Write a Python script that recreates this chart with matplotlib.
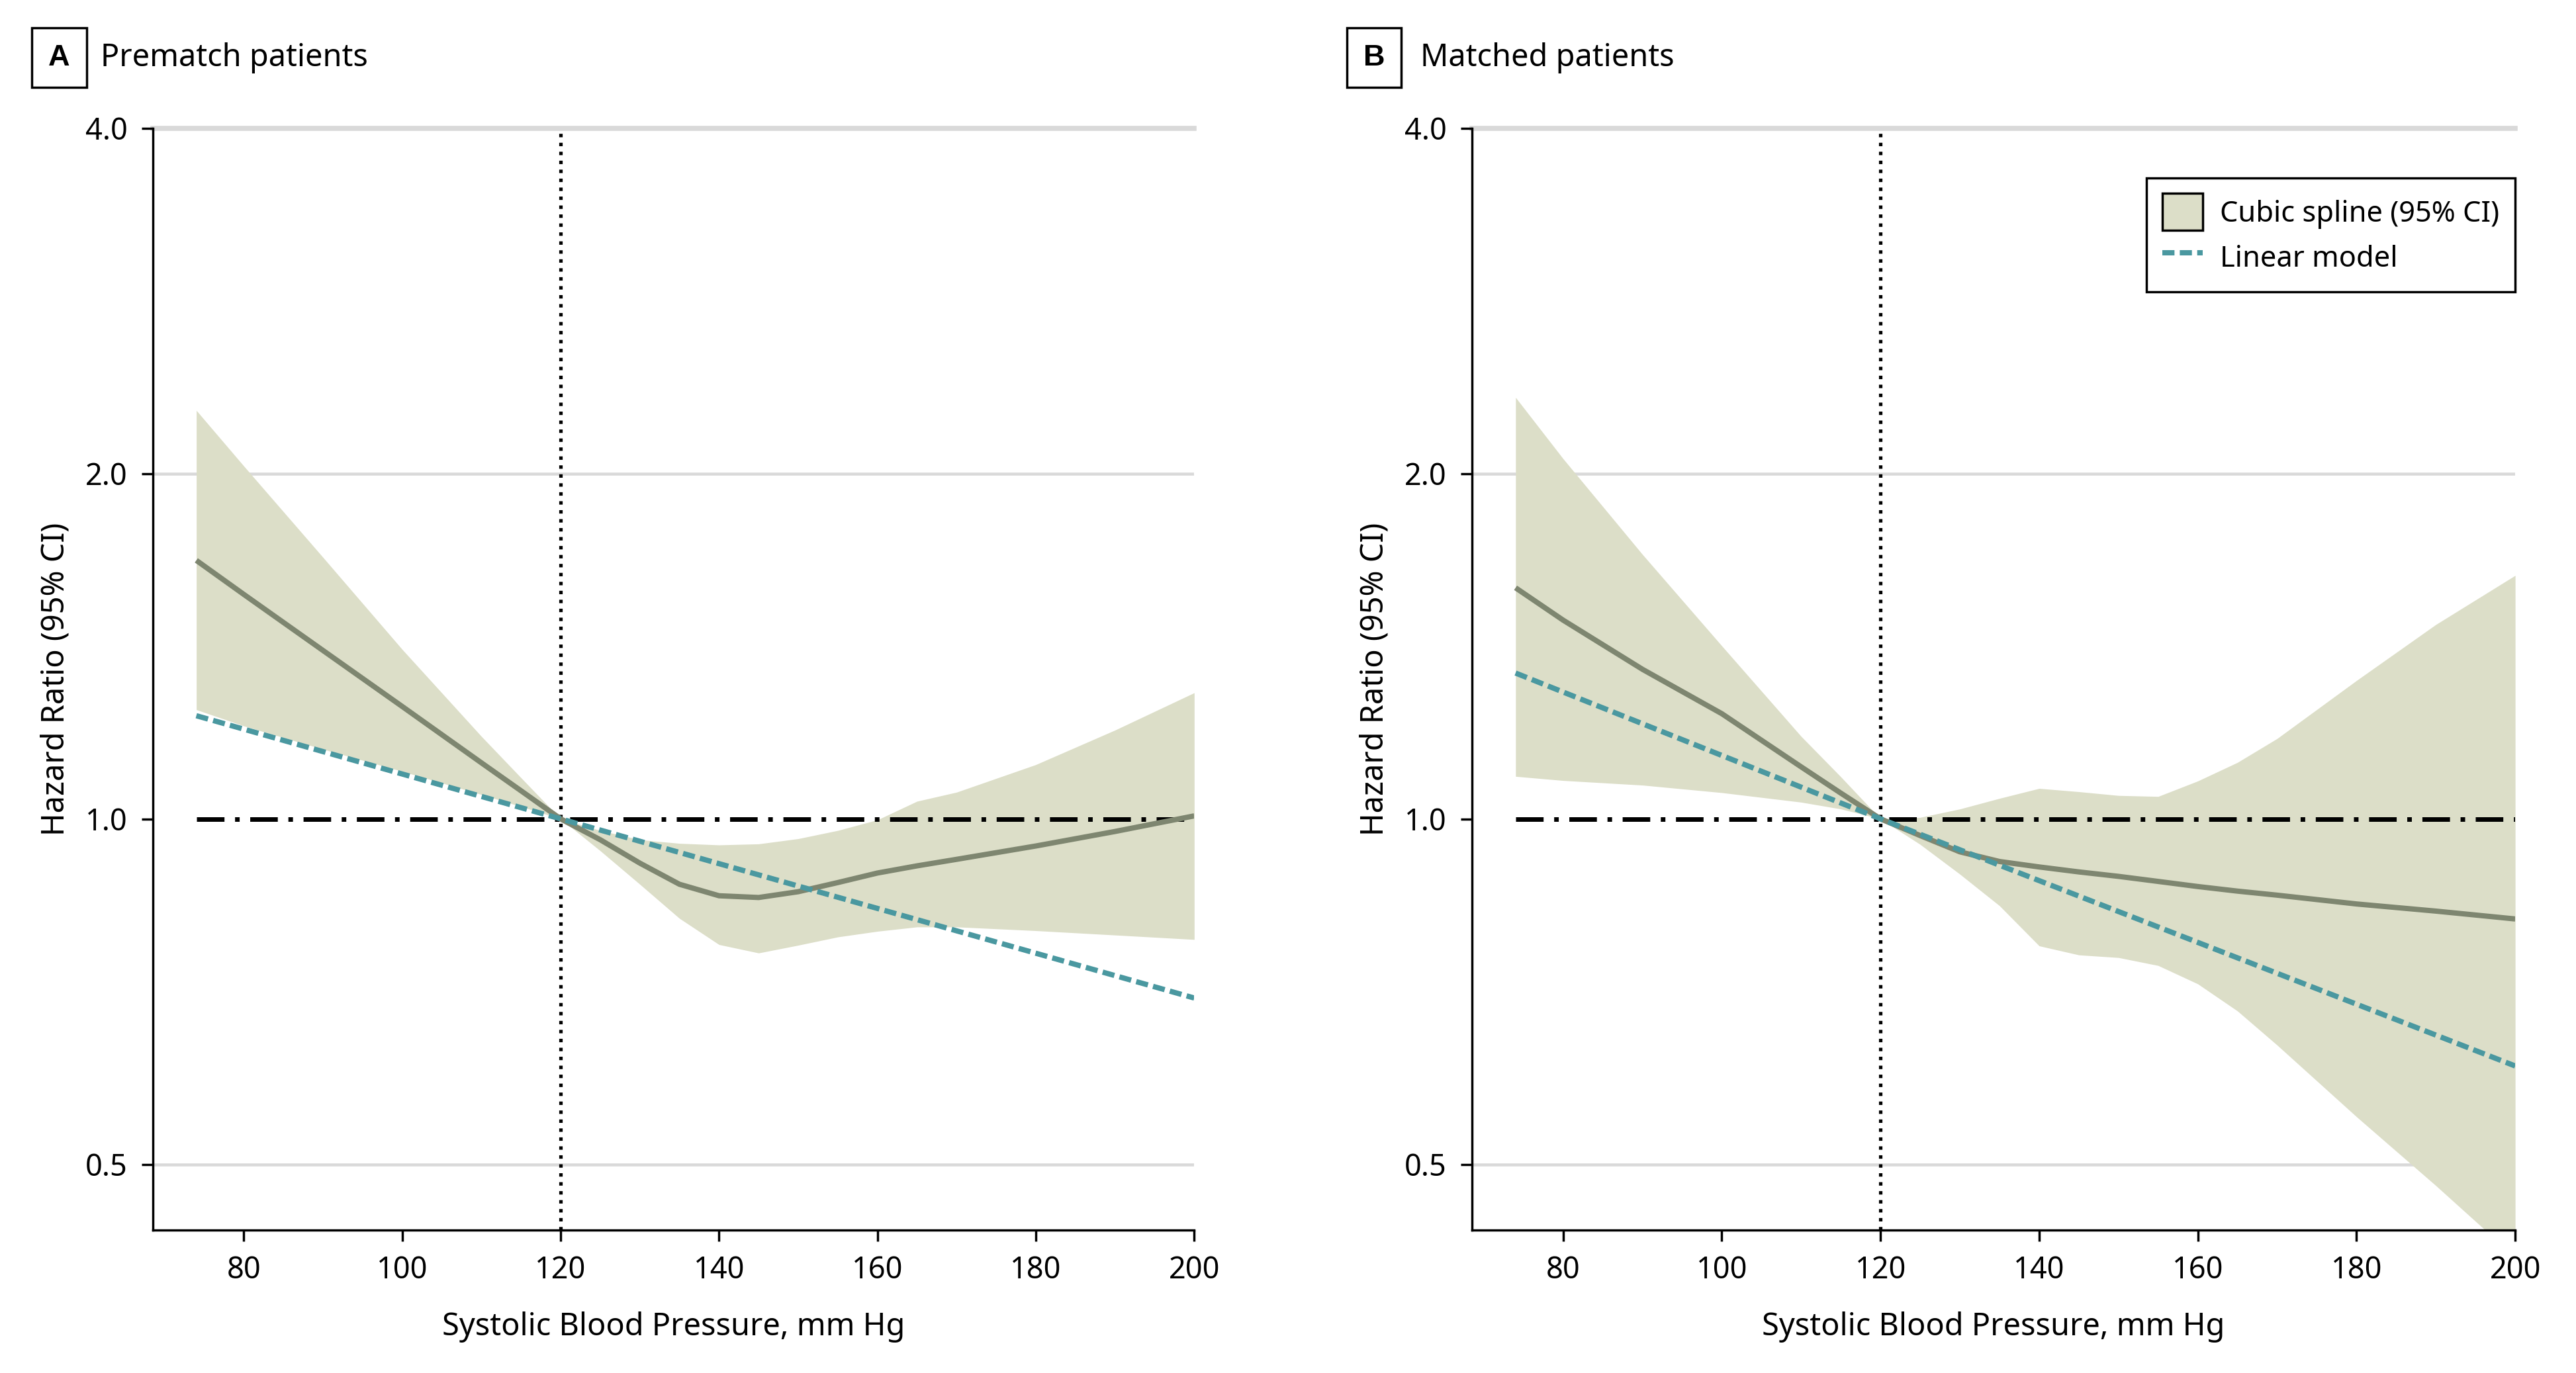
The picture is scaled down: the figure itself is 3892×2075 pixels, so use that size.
import matplotlib
matplotlib.use("Agg")
import matplotlib.pyplot as plt
from matplotlib.patches import Patch
from matplotlib.lines import Line2D

plt.rcParams['font.family'] = ['Noto Sans', 'DejaVu Sans']

# systolic blood pressure grid used for the spline curves
sbp = [74, 80, 90, 100, 110, 115, 120, 125, 130, 135, 140, 145, 150, 155, 160, 165, 170, 180, 190, 200]

# panel A: prematch patients
spline_a = [1.68, 1.569, 1.402, 1.253, 1.119, 1.058, 1.0, 0.959, 0.915, 0.877, 0.857, 0.854, 0.864,
            0.880, 0.897, 0.910, 0.922, 0.947, 0.975, 1.006]
lower_a = [1.245, 1.205, 1.15, 1.10, 1.05, 1.025, 1.0, 0.938, 0.877, 0.819, 0.777, 0.764, 0.776,
           0.789, 0.798, 0.805, 0.805, 0.799, 0.792, 0.785]
upper_a = [2.27, 2.03, 1.69, 1.405, 1.18, 1.086, 1.0, 0.977, 0.959, 0.952, 0.949, 0.951, 0.961,
           0.977, 0.998, 1.036, 1.055, 1.115, 1.195, 1.288]
linear_x = [74, 120, 200]
linear_a = [1.23, 1.0, 0.698]

# panel B: matched patients
spline_b = [1.59, 1.49, 1.35, 1.235, 1.11, 1.053, 1.0, 0.967, 0.936, 0.918, 0.908, 0.899, 0.891,
            0.882, 0.873, 0.865, 0.858, 0.843, 0.831, 0.818]
lower_b = [1.089, 1.08, 1.07, 1.054, 1.034, 1.02, 1.0, 0.95, 0.895, 0.84, 0.775, 0.761, 0.757,
           0.745, 0.718, 0.68, 0.635, 0.550, 0.479, 0.415]
upper_b = [2.33, 2.06, 1.70, 1.415, 1.18, 1.088, 1.0, 1.003, 1.02, 1.042, 1.063, 1.056, 1.048,
           1.046, 1.079, 1.12, 1.175, 1.32, 1.477, 1.63]
linear_b = [1.34, 1.0, 0.609]

yticks = [0.5, 1.0, 2.0, 4.0]
ytick_labels = ['0.5', '1.0', '2.0', '4.0']
xticks = [80, 100, 120, 140, 160, 180, 200]

fill_col = '#dcdec8'
spline_col = '#7e8670'
linear_col = '#4a98a0'
grid_col = '#d9d9d9'

fig = plt.figure(figsize=(15.568, 8.3), dpi=250)
ax_a = fig.add_axes([0.0593, 0.104, 0.4043, 0.8027])
ax_b = fig.add_axes([0.5714, 0.104, 0.4050, 0.8027])


def draw_panel(ax, spline, lower, upper, linear):
    ax.set_yscale('log')
    ax.set_xlim(68.5, 200)
    ax.set_ylim(0.438, 4.0)
    for g in [0.5, 2.0]:
        ax.axhline(g, color=grid_col, lw=1.3, zorder=0)
    ax.axhline(4.0, color=grid_col, lw=2.2, zorder=0, clip_on=False)
    ax.fill_between(sbp, lower, upper, color=fill_col, lw=0, zorder=1)
    ax.hlines(1.0, 74, 200, color='black', lw=2.0,
              linestyle=(0, (6, 2.3, 1, 2.3)), zorder=2)
    ax.axvline(120, color='black', lw=1.5, linestyle=(0, (1, 1.6)), zorder=2)
    ax.plot(sbp, spline, color=spline_col, lw=2.3, zorder=3, solid_capstyle='butt')
    ax.plot(linear_x, linear, color=linear_col, lw=2.3, linestyle=(0, (2.3, 1.0)), zorder=4)

    ax.set_yticks(yticks)
    ax.set_yticklabels(ytick_labels)
    ax.minorticks_off()
    ax.set_xticks(xticks)
    ax.tick_params(labelsize=13, length=5, width=1, direction='out', pad=6)
    for s in ['top', 'right']:
        ax.spines[s].set_visible(False)
    for s in ['left', 'bottom']:
        ax.spines[s].set_linewidth(1.0)
    ax.set_xlabel('Systolic Blood Pressure, mm Hg', fontsize=13.5, labelpad=11)
    ax.set_ylabel('Hazard Ratio (95% CI)', fontsize=13.5, labelpad=6)


draw_panel(ax_a, spline_a, lower_a, upper_a, linear_a)
draw_panel(ax_b, spline_b, lower_b, upper_b, linear_b)

# panel headers
for bx, tx, letter, title in [(0.023, 0.039, 'A', 'Prematch patients'),
                              (0.5335, 0.5515, 'B', 'Matched patients')]:
    fig.text(bx, 0.958, letter, fontsize=13, fontweight='bold', ha='center', va='center',
             family=['Liberation Sans Narrow', 'Liberation Sans', 'DejaVu Sans'],
             bbox=dict(boxstyle='square,pad=0.55', facecolor='white', edgecolor='black', lw=1.0))
    fig.text(tx, 0.958, title, fontsize=13.5, ha='left', va='center')

handles = [Patch(facecolor=fill_col, edgecolor='black', lw=1.0, label='Cubic spline (95% CI)'),
           Line2D([0], [0], color=linear_col, lw=2.3, linestyle=(0, (2.3, 1.0)), label='Linear model')]
leg = ax_b.legend(handles=handles, loc='upper right', bbox_to_anchor=(1.0, 0.955), fontsize=12.5,
                  frameon=True, fancybox=False, edgecolor='black', framealpha=1,
                  handlelength=1.4, handleheight=1.6, borderpad=0.55, labelspacing=0.3,
                  handletextpad=0.6, borderaxespad=0)
leg.get_frame().set_linewidth(1.0)

fig.savefig('out.png', dpi=250)
